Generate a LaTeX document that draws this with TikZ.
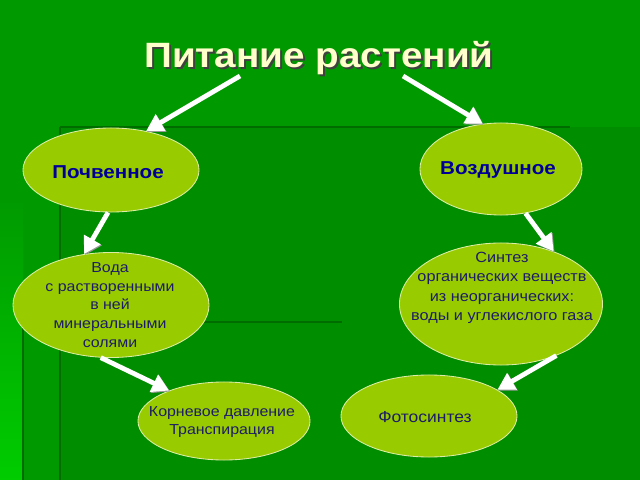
\documentclass[tikz,border=0pt]{standalone}
\usepackage{fontspec}
\setmainfont[FakeStretch=1.1]{Liberation Sans}
\usepackage{xcolor}
\usetikzlibrary{arrows.meta,shapes.geometric}

\definecolor{bgmain}{HTML}{009A00}
\definecolor{bginner}{HTML}{008D00}
\definecolor{bgbright}{HTML}{00CC00}
\definecolor{bgline}{HTML}{006C00}
\definecolor{blobfill}{HTML}{99CC00}
\definecolor{titlecol}{HTML}{FFFFCC}
\definecolor{navy}{HTML}{000099}
\definecolor{inktext}{HTML}{1C1C66}

\begin{document}
\begin{tikzpicture}[x=0.025cm, y=-0.025cm,
    blob/.style={ellipse, fill=blobfill, draw=white!65!blobfill, line width=0.6pt, inner sep=0pt},
    txt/.style={align=center, text=inktext, font=\fontsize{10.3}{13.4}\selectfont},
    toptxt/.style={text=navy, font=\bfseries\fontsize{13.3}{15}\selectfont},
    arr/.style={-{Triangle[length=12pt,width=13pt]}, line width=3.4pt, white,
        preaction={draw=black!40, transform canvas={xshift=0.7pt,yshift=-0.7pt}}}]

    \useasboundingbox (0,0) rectangle (640,480);
    \fill[bgmain] (0,0) rectangle (640,480);
    \shade[top color=bgmain, bottom color=bgbright] (0,200) rectangle (23,480);
    \fill[bginner] (60,127) rectangle (640,480);
    \draw[bgline, line width=1.4pt] (60,127) -- (570,127);
    \draw[bgline, line width=1.4pt] (60,127) -- (60,480);
    \draw[bgline, line width=1.4pt] (23,322) -- (342,322);
    \draw[bgline, line width=1.4pt] (23,322) -- (23,480);

    \node[font=\bfseries\fontsize{25}{30}\selectfont, text=black!75, anchor=base] (titleshadow) at (321,69) {Питание растений};
    \node[font=\bfseries\fontsize{25}{30}\selectfont, text=titlecol, anchor=base] (title) at (319,67) {Питание растений};
    \coordinate (fromL) at (240,76);
    \coordinate (fromR) at (403,76);

    \node[blob, minimum width=4.4cm, minimum height=2.1cm] (poch) at (111,170) {};
    \node[blob, minimum width=4.05cm, minimum height=2.3cm] (vozd) at (501,169) {};
    \node[blob, minimum width=4.9cm, minimum height=2.625cm] (voda) at (111,305) {};
    \node[blob, minimum width=5.075cm, minimum height=3.05cm] (sint) at (501,304) {};
    \node[blob, minimum width=4.3cm, minimum height=1.95cm] (korn) at (224,421) {};
    \node[blob, minimum width=4.4cm, minimum height=2.05cm] (foto) at (429,416) {};

    \node[toptxt] (pochT) at (108,172) {Почвенное};
    \node[toptxt] (vozdT) at (498,170) {Воздушное};
    \node[txt] (vodaT) at (110,305) {Вода\\с растворенными\\в ней\\минеральными\\солями};
    \node[txt, font=\fontsize{10.5}{13.9}\selectfont] (sintT) at (502,288) {Синтез\\органических веществ\\из неорганических:\\воды и углекислого газа};
    \node[txt] (kornT) at (222,422) {Корневое давление\\Транспирация};
    \node[txt, font=\fontsize{11.3}{14}\selectfont] (fotoT) at (425,417) {Фотосинтез};

    \draw[arr] (fromL) -- (poch.48);
    \draw[arr] (fromR) -- (vozd.112);
    \draw[arr] (poch.266) -- (voda.118);
    \draw[arr] (voda.259) -- (korn.151);
    \draw[arr] (vozd.299) -- (sint.45);
    \draw[arr] (sint.317) -- (foto.21);
\end{tikzpicture}
\end{document}
